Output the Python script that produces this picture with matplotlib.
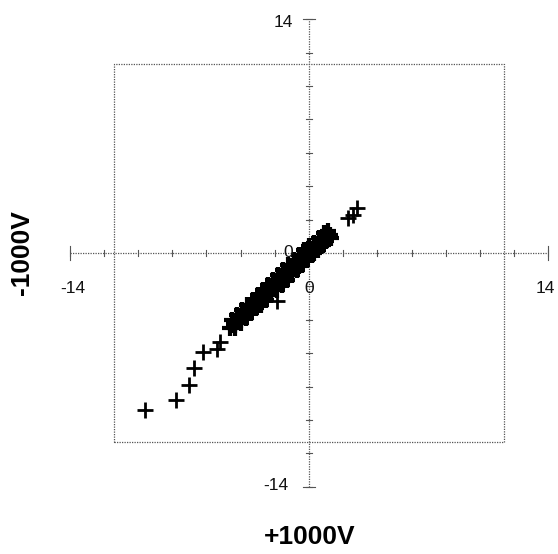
import matplotlib.pyplot as plt

plt.rcParams['font.family'] = ['Liberation Sans', 'DejaVu Sans']

# +1000V reading vs -1000V reading for each sample (dense group near the origin)
x_main = [-4.6, -4.4, -4.3, -4.1, -4.0, -3.8, -3.7, -3.5, -3.4, -3.2, -3.1, -2.9, -2.8,
          -2.6, -2.5, -2.3, -2.2, -2.0, -1.9, -1.7, -1.6, -1.4, -1.3, -1.1, -1.0,
          -0.8, -0.7, -0.5, -0.4, -0.2, -0.1, 0.1, 0.2, 0.4, 0.5, 0.7, 0.8, 1.0,
          1.2, 1.3, -3.0, -2.4, -1.5, -0.6, 0.3,
          -4.5, -4.2, -3.9, -3.6, -3.3, -3.0, -2.7, -2.4, -2.1, -1.8, -1.5, -1.2,
          -0.9, -0.6, -0.3, 0.0, 0.3, 0.6, 0.9, 1.1,
          -4.3, -4.0, -3.7, -3.4, -3.1, -2.8, -2.5, -2.2, -1.9, -1.6, -1.3, -1.0,
          -0.7, -0.4, -0.1, 0.2, 0.5, 0.8,
          -4.4, -3.9, -3.3, -2.7, -2.1, -1.5, -0.9, -0.3, 0.4, 1.0]
y_main = [-4.5, -4.1, -4.3, -3.8, -4.0, -3.5, -3.7, -3.4, -3.1, -3.2, -2.8, -2.9, -2.5,
          -2.6, -2.2, -2.3, -2.0, -2.1, -1.7, -1.8, -1.4, -1.5, -1.1, -1.2, -0.9,
          -0.9, -0.6, -0.6, -0.3, -0.3, 0.0, -0.1, 0.2, 0.2, 0.5, 0.4, 0.8, 0.7,
          1.1, 0.9, -3.1, -2.5, -1.7, -0.8, 0.0,
          -4.0, -3.7, -3.4, -3.1, -2.8, -2.5, -2.2, -1.9, -1.6, -1.3, -1.0, -0.7,
          -0.4, -0.1, 0.2, 0.4, 0.6, 0.9, 1.2, 1.3,
          -4.5, -4.2, -3.9, -3.6, -3.3, -3.1, -2.8, -2.5, -2.2, -1.9, -1.6, -1.3,
          -1.0, -0.7, -0.4, -0.1, 0.2, 0.5,
          -4.3, -3.8, -3.2, -2.6, -2.0, -1.5, -0.9, -0.4, 0.3, 0.9]

x_out = [-9.6, -7.8, -7.0, -6.7, -6.2, -5.4, -5.2, -1.9, 2.3, 2.6, 2.8]
y_out = [-9.4, -8.8, -7.9, -6.9, -5.9, -5.75, -5.3, -2.9, 2.1, 2.3, 2.7]

axis_limit = 14
box_x = 11.4
box_y = 11.3
tick_step = 2

fig = plt.figure(figsize=(5.58, 5.54), dpi=100)
ax = fig.add_axes([0, 0, 1, 1])
ax.set_xlim(-18.07, 14.56)
ax.set_ylim(-18.02, 15.15)
ax.axis('off')

grey = '#555555'
dot = dict(color=grey, lw=0.9, linestyle=(0, (1, 1.0)))

# frame
ax.plot([-box_x, box_x, box_x, -box_x, -box_x],
        [-box_y, -box_y, box_y, box_y, -box_y], **dot)

# axes through the origin
ax.plot([-axis_limit, axis_limit], [0, 0], **dot)
ax.plot([0, 0], [-axis_limit, axis_limit], **dot)

# small tick marks every 2 units
tx, ty = 0.18, 0.18
for v in range(-axis_limit, axis_limit + 1, tick_step):
    if v == 0:
        continue
    ax.plot([v, v], [-ty, ty], color=grey, lw=0.8)
    ax.plot([-tx, tx], [v, v], color=grey, lw=0.8)
ax.plot([axis_limit, axis_limit], [-0.4, 0.4], color=grey, lw=0.8)
ax.plot([-axis_limit, -axis_limit], [-0.4, 0.4], color=grey, lw=0.8)
ax.plot([-0.35, 0.35], [axis_limit, axis_limit], color=grey, lw=0.8)
ax.plot([-0.35, 0.35], [-axis_limit, -axis_limit], color=grey, lw=0.8)

ax.plot(x_main, y_main, '+', color='black', ms=12, mew=3.0, linestyle='none')
ax.plot(x_out, y_out, '+', color='black', ms=12, mew=2.0, linestyle='none')

# scale labels
lab = dict(fontsize=12.5, color='#111111', ha='center', va='center')
ax.text(-1.5, 13.8, '14', **lab)
ax.text(-1.95, -13.9, '-14', **lab)
ax.text(-13.8, -2.1, '-14', **lab)
ax.text(13.8, -2.1, '14', **lab)
ax.text(-1.2, 0.05, '0', **lab)
ax.text(0.0, -2.1, '0', **lab)

ax.text(0.05, -17.0, '+1000V', fontsize=19, fontweight='bold',
        ha='center', va='center')
ax.text(-16.8, 0.05, '-1000V', fontsize=19, fontweight='bold',
        ha='center', va='center', rotation=90)

fig.savefig('out.png', dpi=100)
